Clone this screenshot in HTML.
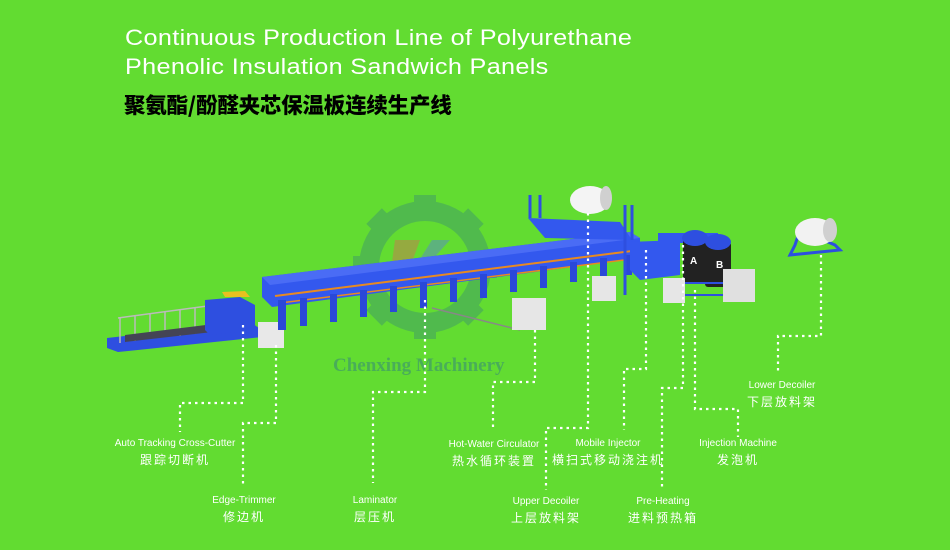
<!DOCTYPE html>
<html><head><meta charset="utf-8"><style>
html,body{margin:0;padding:0}
body{width:950px;height:550px;background:#62dc31;overflow:hidden;position:relative;font-family:"Liberation Sans","Noto Sans CJK SC",sans-serif}
.t{position:absolute;left:125px;color:#fff;font-size:22.5px;white-space:nowrap;transform:scaleX(1.12);transform-origin:0 0;letter-spacing:0.3px}
.cn{position:absolute;left:124px;top:89px;font-family:"Noto Sans CJK SC",serif;font-weight:900;font-size:21.5px;color:#000;letter-spacing:-0.2px}
.l{position:absolute;color:#fff;text-align:center;white-space:nowrap;transform:translateX(-50%);line-height:16px}
.l .e{font-size:10px}
.l .c{font-size:12px;letter-spacing:2px}
svg{position:absolute;left:0;top:0}
</style></head><body>
<svg width="950" height="550">
<g opacity="0.5" fill="#3f9a6a">
  <g transform="translate(425,267)">
    <circle r="56" fill="none" stroke="#3f9a6a" stroke-width="20"/>
    <rect x="-11" y="-72" width="22" height="22"/>
    <rect x="-11" y="-72" width="22" height="22" transform="rotate(45)"/>
    <rect x="-11" y="-72" width="22" height="22" transform="rotate(90)"/>
    <rect x="-11" y="-72" width="22" height="22" transform="rotate(135)"/>
    <rect x="-11" y="-72" width="22" height="22" transform="rotate(180)"/>
    <rect x="-11" y="-72" width="22" height="22" transform="rotate(225)"/>
    <rect x="-11" y="-72" width="22" height="22" transform="rotate(270)"/>
    <rect x="-11" y="-72" width="22" height="22" transform="rotate(315)"/>
  </g>
  <path d="M395 240 L420 240 L412 262 L392 262 Z" fill="#c87a50"/>
  <path d="M432 240 L450 240 L430 262 L418 262 Z" fill="#5a8ac8"/>
</g>
<g>
  <polygon points="790,255 840,250 835,245 800,230 795,245" fill="none" stroke="#2c4fe0" stroke-width="3"/>
  <ellipse cx="815" cy="232" rx="20" ry="14" fill="#f2f2f2"/>
  <ellipse cx="830" cy="230" rx="7" ry="12" fill="#d0d0d0"/>
</g>
<polygon points="107,338 250,322 262,330 262,337 118,352 107,348" fill="#2e4fe0"/>
<g stroke="#bbb" stroke-width="1.5">
  <line x1="120" y1="317" x2="120" y2="343"/><line x1="135" y1="315" x2="135" y2="341"/>
  <line x1="150" y1="313" x2="150" y2="339"/><line x1="165" y1="311" x2="165" y2="337"/>
  <line x1="180" y1="309" x2="180" y2="336"/><line x1="195" y1="307" x2="195" y2="334"/>
  <line x1="210" y1="305" x2="210" y2="332"/><line x1="225" y1="303" x2="225" y2="330"/>
  <line x1="118" y1="318" x2="230" y2="303"/>
</g>
<polygon points="125,335 230,322 230,330 125,342" fill="#445"/>
<polygon points="205,300 240,297 255,305 255,330 210,335 205,330" fill="#2e4fe0"/>
<polygon points="222,292 245,291 250,297 225,297" fill="#e8c020"/>
<rect x="258" y="322" width="26" height="26" fill="#e8e8e8"/>
<polygon points="262,277 630,232 640,238 640,258 272,307 262,297" fill="#3358ee"/>
<polygon points="262,277 630,232 640,238 270,285" fill="#4a6cf5"/>
<polyline points="275,296 640,250" stroke="#e88a20" stroke-width="2" fill="none"/>
<polyline points="280,303 640,258" stroke="#e88a20" stroke-width="1.5" fill="none"/>
<g fill="#2a48d8">
  <rect x="278" y="300" width="8" height="30"/><rect x="300" y="298" width="7" height="28"/>
  <rect x="330" y="294" width="7" height="28"/><rect x="360" y="290" width="7" height="27"/>
  <rect x="390" y="286" width="7" height="26"/><rect x="420" y="282" width="7" height="26"/>
  <rect x="450" y="278" width="7" height="24"/><rect x="480" y="274" width="7" height="24"/>
  <rect x="510" y="270" width="7" height="22"/><rect x="540" y="266" width="7" height="22"/>
  <rect x="570" y="262" width="7" height="20"/><rect x="600" y="258" width="7" height="20"/>
  <rect x="625" y="255" width="7" height="20"/>
</g>
<line x1="432" y1="308" x2="520" y2="330" stroke="#888" stroke-width="1.5"/>
<polygon points="528,218 620,222 632,240 545,238" fill="#3358ee"/>
<g stroke="#2e4fe0" stroke-width="3">
  <line x1="530" y1="195" x2="530" y2="218"/><line x1="540" y1="195" x2="540" y2="218"/>
  <line x1="625" y1="205" x2="625" y2="240"/><line x1="632" y1="205" x2="632" y2="240"/>
  <line x1="625" y1="240" x2="625" y2="295"/>
</g>
<ellipse cx="590" cy="200" rx="20" ry="14" fill="#f4f4f4"/>
<ellipse cx="606" cy="198" rx="6" ry="12" fill="#d0d0d0"/>
<polygon points="630,242 680,240 680,275 640,280 630,270" fill="#3358ee"/>
<rect x="658" y="233" width="60" height="10" fill="#3358ee"/>
<rect x="683" y="238" width="24" height="45" rx="3" fill="#222"/>
<rect x="705" y="242" width="26" height="45" rx="3" fill="#222"/>
<ellipse cx="695" cy="238" rx="13" ry="8" fill="#2e4fe0"/>
<ellipse cx="718" cy="242" rx="13" ry="8" fill="#2e4fe0"/>
<text x="690" y="264" fill="#fff" font-size="10" font-weight="bold" font-family="Liberation Sans">A</text>
<text x="716" y="268" fill="#fff" font-size="10" font-weight="bold" font-family="Liberation Sans">B</text>
<rect x="680" y="283" width="45" height="12" fill="none" stroke="#2e4fe0" stroke-width="2"/>
<rect x="512" y="298" width="34" height="32" fill="#e6e6e6"/>
<rect x="592" y="276" width="24" height="25" fill="#e6e6e6"/>
<rect x="663" y="278" width="22" height="25" fill="#e6e6e6"/>
<rect x="723" y="269" width="32" height="33" fill="#e0e0e0"/>
<text x="333" y="371" font-family="Liberation Serif" font-weight="bold" font-size="19" fill="#3f9a6a" opacity="0.7">Chenxing Machinery</text>
<g stroke="#fff" stroke-width="2.2" stroke-dasharray="2.5 4" fill="none">
  <polyline points="243,325 243,403 180,403 180,432"/>
  <polyline points="276,345 276,423 243,423 243,485"/>
  <polyline points="425,300 425,392 373,392 373,483"/>
  <polyline points="535,330 535,382 493,382 493,431"/>
  <polyline points="588,213 588,428 546,428 546,490"/>
  <polyline points="646,250 646,369 624,369 624,430"/>
  <polyline points="683,245 683,388 662,388 662,490"/>
  <polyline points="695,290 695,409 738,409 738,437"/>
  <polyline points="821,255 821,336 778,336 778,374"/>
</g>
</svg>
<div class="t" style="top:25px">Continuous Production Line of Polyurethane</div>
<div class="t" style="top:54px">Phenolic Insulation Sandwich Panels</div>
<div class="cn">聚氨酯/酚醛夹芯保温板连续生产线</div>
<div class="l" style="left:175px;top:436px"><div class="e">Auto Tracking Cross-Cutter</div><div class="c">跟踪切断机</div></div>
<div class="l" style="left:244px;top:493px"><div class="e">Edge-Trimmer</div><div class="c">修边机</div></div>
<div class="l" style="left:375px;top:493px"><div class="e">Laminator</div><div class="c">层压机</div></div>
<div class="l" style="left:494px;top:437px"><div class="e">Hot-Water Circulator</div><div class="c">热水循环装置</div></div>
<div class="l" style="left:546px;top:494px"><div class="e">Upper Decoiler</div><div class="c">上层放料架</div></div>
<div class="l" style="left:608px;top:436px"><div class="e">Mobile Injector</div><div class="c">横扫式移动浇注机</div></div>
<div class="l" style="left:663px;top:494px"><div class="e">Pre-Heating</div><div class="c">进料预热箱</div></div>
<div class="l" style="left:738px;top:436px"><div class="e">Injection Machine</div><div class="c">发泡机</div></div>
<div class="l" style="left:782px;top:378px"><div class="e">Lower Decoiler</div><div class="c">下层放料架</div></div>
</body></html>
